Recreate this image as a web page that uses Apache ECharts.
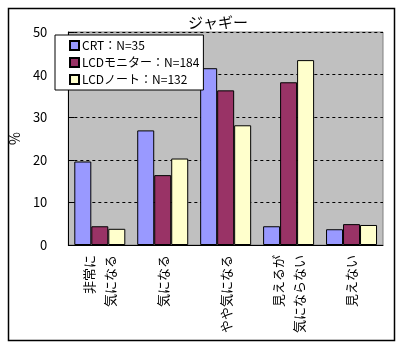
<!DOCTYPE html>
<html><head><meta charset="utf-8">
<script src="https://cdn.jsdelivr.net/npm/echarts@6/dist/echarts.min.js"></script>
<style>html,body{margin:0;padding:0;background:#fff}#c{width:401px;height:346px}</style>
</head><body><div id="c"></div>
<script>
var categories = ['非常に\n気になる', '気になる', 'やや気になる', '見えるが\n気にならない', '見えない'];
var seriesNames = ['CRT：N=35', 'LCDモニター：N=184', 'LCDノート：N=132'];
var crt = [19.6, 26.9, 41.5, 4.4, 3.7];
var lcdMonitor = [4.4, 16.4, 36.3, 38.2, 4.9];
var lcdNote = [3.8, 20.3, 28.1, 43.4, 4.7];
var yTicks = [0, 10, 20, 30, 40, 50];

var font = '"Noto Sans CJK JP", "DejaVu Sans", sans-serif';
var colors = ['#9999FF', '#993366', '#FFFFCC'];
var values = [crt, lcdMonitor, lcdNote];

var chart = echarts.init(document.getElementById('c'), null, {renderer: 'canvas'});
chart.setOption({
  animation: false,
  backgroundColor: '#fff',
  textStyle: {fontFamily: font},
  title: {
    text: 'ジャギー', left: 183, top: 10,
    textStyle: {fontSize: 15, fontWeight: 'normal', color: '#000', fontFamily: font}
  },
  graphic: [{
    type: 'rect', left: 6, top: 6, z: -1,
    shape: {width: 386, height: 332},
    style: {fill: null, stroke: '#000', lineWidth: 1.5}
  }],
  legend: {
    orient: 'vertical', left: 55, top: 35, z: 10,
    backgroundColor: '#fff', borderColor: '#000', borderWidth: 1,
    padding: [4, 4, 4, 14],
    icon: 'rect',
    itemWidth: 9, itemHeight: 9, itemGap: 4,
    textStyle: {fontSize: 12, lineHeight: 13, color: '#000', fontFamily: font, padding: [0, 0, 0, -2]},
    data: seriesNames
  },
  grid: {
    left: 62, top: 32, right: 18, bottom: 101,
    show: true, backgroundColor: '#C0C0C0', borderColor: '#808080', borderWidth: 1
  },
  xAxis: {
    type: 'category', data: categories,
    axisLine: {lineStyle: {color: '#000', width: 1}},
    axisTick: {show: false},
    axisLabel: {
      rotate: 90, margin: 10, fontSize: 13, lineHeight: 21, color: '#000',
      fontFamily: font, interval: 0
    }
  },
  yAxis: {
    type: 'value', min: yTicks[0], max: yTicks[yTicks.length - 1], interval: 10,
    name: '%', nameLocation: 'middle', nameGap: 31, nameRotate: 90,
    nameTextStyle: {fontSize: 14, color: '#000', fontFamily: font},
    axisLine: {show: true, lineStyle: {color: '#000', width: 1}},
    axisTick: {show: true, inside: true, length: 6, lineStyle: {color: '#000'}},
    axisLabel: {margin: 21, fontSize: 13, color: '#000', fontFamily: font},
    splitLine: {show: true, lineStyle: {color: '#000', type: [3, 3], width: 1}}
  },
  series: seriesNames.map(function (n, i) {
    return {
      name: n, type: 'bar', data: values[i],
      barWidth: 17, barGap: '0%',
      itemStyle: {color: colors[i], borderColor: '#000', borderWidth: 1}
    };
  })
});
</script></body></html>
